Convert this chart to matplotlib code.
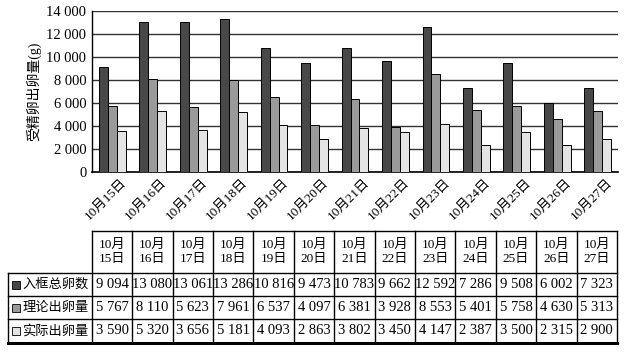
import numpy as np
import matplotlib.pyplot as plt
import matplotlib.transforms as mtrans
from matplotlib.patches import Rectangle

plt.rcParams['font.family'] = ['Liberation Serif', 'Noto Sans CJK SC', 'DejaVu Sans']

dates = ['10月15日', '10月16日', '10月17日', '10月18日', '10月19日', '10月20日', '10月21日',
         '10月22日', '10月23日', '10月24日', '10月25日', '10月26日', '10月27日']
series_names = ['入框总卵数', '理论出卵量', '实际出卵量']
total = [9094, 13080, 13061, 13286, 10816, 9473, 10783, 9662, 12592, 7286, 9508, 6002, 7323]
theory = [5767, 8110, 5623, 7961, 6537, 4097, 6381, 3928, 8553, 5401, 5758, 4630, 5313]
actual = [3590, 5320, 3656, 5181, 4093, 2863, 3802, 3450, 4147, 2387, 3500, 2315, 2900]
colors = ['#484848', '#9a9a9a', '#e4e4e4']

def fmt(v):
    return '{:,}'.format(v).replace(',', ' ')

W, H = 626, 354
fig = plt.figure(figsize=(W/100, H/100), dpi=100)

# bar chart
ax = fig.add_axes([92/W, 1-172/H, 526/W, 161/H])
x = np.arange(len(dates))
bw = 0.22
for k, vals in enumerate([total, theory, actual]):
    ax.bar(x + (k-1)*bw, vals, bw, color=colors[k], edgecolor='black', linewidth=0.7, zorder=3)
ax.set_xlim(-0.5, len(dates)-0.5)
ax.set_ylim(0, 14000)
ax.set_yticks(range(0, 14001, 2000))
ax.set_yticklabels([fmt(v) for v in range(0, 14001, 2000)], fontsize=10.5)
ax.yaxis.grid(True, color='#333333', linewidth=1.0, zorder=0)
ax.tick_params(axis='y', length=0, pad=4)
ax.tick_params(axis='x', length=0, pad=3)
ax.set_xticks(x)
ax.set_xticklabels(dates, rotation=45, ha='right', rotation_mode='anchor', fontsize=9.5)
for s in ['top', 'right']:
    ax.spines[s].set_visible(False)
ax.spines['left'].set_linewidth(1.0)
ax.spines['bottom'].set_linewidth(1.2)
ax.set_ylabel('受精卵出卵量(g)', fontsize=10, labelpad=4)

# shift rotated date labels so their ends sit at the group centre
off = mtrans.ScaledTranslation(8/100, 0, fig.dpi_scale_trans)
for lab in ax.get_xticklabels():
    lab.set_transform(lab.get_transform() + off)

# data table
hw = 84 / (526/len(dates))
tx = fig.add_axes([8/W, 1-344/H, 609/W, 113/H])
tx.set_xlim(-0.5-hw, len(dates)-0.5)
tx.set_ylim(113, 0)
tx.axis('off')
rows = [0, 42, 65, 88, 112]
lc = 'black'
tx.plot([-0.5, len(dates)-0.5], [rows[0], rows[0]], color=lc, lw=1.0, clip_on=False)
for r in rows[1:-1]:
    tx.plot([-0.5-hw, len(dates)-0.5], [r, r], color=lc, lw=1.0, clip_on=False)
tx.plot([-0.5-hw, len(dates)-0.5], [rows[-1], rows[-1]], color=lc, lw=2.2, clip_on=False)
tx.plot([-0.5-hw, -0.5-hw], [rows[1], rows[-1]], color=lc, lw=1.0, clip_on=False)
for c in range(len(dates)+1):
    tx.plot([c-0.5, c-0.5], [rows[0], rows[-1]], color=lc, lw=1.0, clip_on=False)

for i, d in enumerate(dates):
    tx.text(i, (rows[0]+rows[1])/2, d.replace('月', '月\n'), ha='center', va='center',
            fontsize=9.5, linespacing=1.3)
for k, vals in enumerate([total, theory, actual]):
    yc = (rows[k+1]+rows[k+2])/2
    tx.add_patch(Rectangle((-0.5-hw+0.1, yc-4), 0.2, 8, transform=tx.transData,
                           facecolor=colors[k], edgecolor='black', lw=0.6, clip_on=False))
    tx.text(-0.5-hw+0.35, yc, series_names[k], ha='left', va='center', fontsize=9.5)
    for i, v in enumerate(vals):
        tx.text(i, yc, fmt(v), ha='center', va='center', fontsize=10.5)

fig.savefig('out.png', dpi=100)
